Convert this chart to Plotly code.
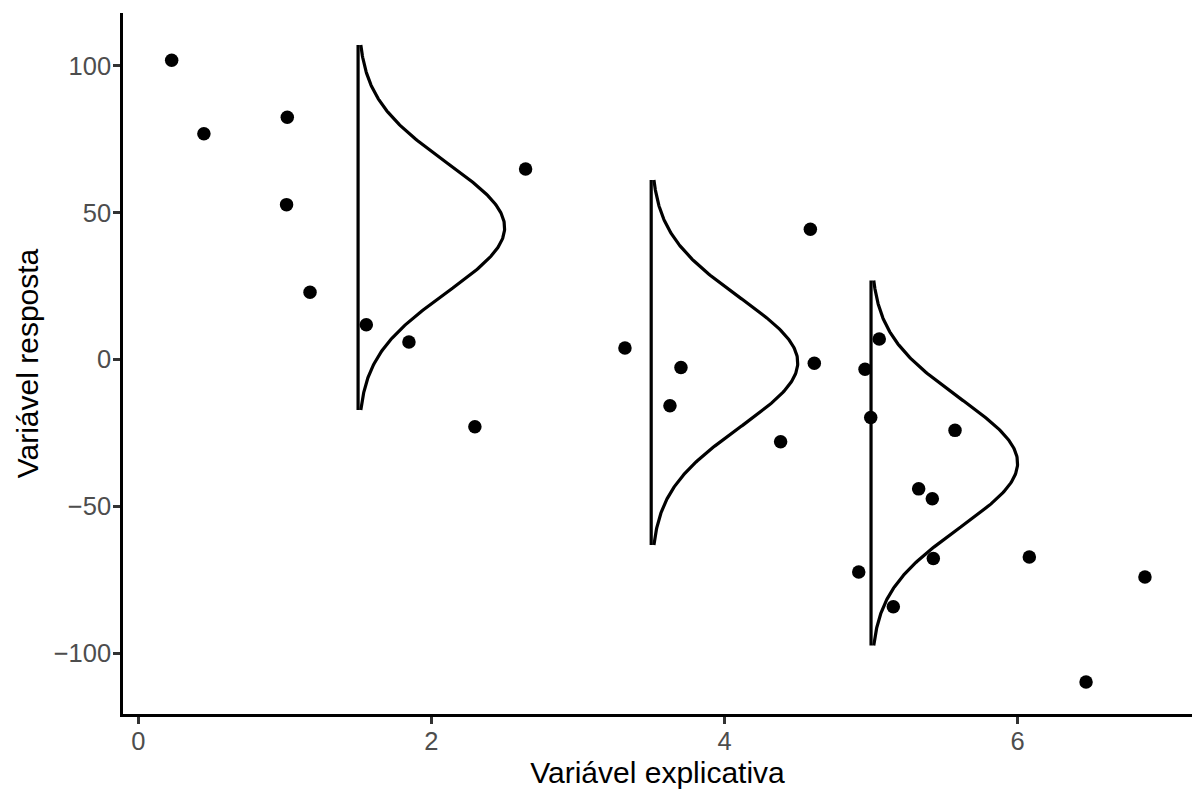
import numpy as np
import plotly.graph_objects as go

# Observed data points
x_obs = [0.228, 0.448, 1.017, 1.012, 1.172, 1.556, 1.847, 2.297, 2.643, 3.321,
         3.628, 3.703, 4.383, 4.586, 4.613, 4.916, 4.959, 4.998, 5.056, 5.152,
         5.325, 5.418, 5.425, 5.573, 6.080, 6.467, 6.869]
y_obs = [101.8, 76.8, 82.4, 52.7, 22.9, 11.8, 6.0, -22.9, 64.8, 3.9,
         -15.7, -2.7, -28.0, 44.3, -1.3, -72.3, -3.3, -19.7, 7.0, -84.1,
         -44.0, -47.4, -67.7, -24.1, -67.2, -109.7, -74.0]

# Normal density curves drawn along the response axis
curve_x0 = [1.5, 3.5, 5.0]
curve_mean = [44.9, -1.0, -35.2]
curve_sd = 22.0
curve_halfrange = 62.1
curve_width = 1.0

x_ticks = [0, 2, 4, 6]
y_ticks = [-100, -50, 0, 50, 100]
y_tick_text = ["\u2212100", "\u221250", "0", "50", "100"]

fig = go.Figure()

for x0, mu in zip(curve_x0, curve_mean):
    yy = np.linspace(mu - curve_halfrange, mu + curve_halfrange, 300)
    xx = x0 + curve_width * np.exp(-0.5 * ((yy - mu) / curve_sd) ** 2)
    fig.add_trace(go.Scatter(x=xx, y=yy, mode="lines",
                             line=dict(color="black", width=3.2),
                             hoverinfo="skip", showlegend=False))
    fig.add_trace(go.Scatter(x=[x0, x0], y=[mu - curve_halfrange, mu + curve_halfrange],
                             mode="lines", line=dict(color="black", width=3.2),
                             hoverinfo="skip", showlegend=False))

fig.add_trace(go.Scatter(x=x_obs, y=y_obs, mode="markers",
                         marker=dict(color="black", size=13.5, line=dict(width=0)),
                         showlegend=False))

font_family = "Liberation Sans, Arial, Helvetica, sans-serif"

fig.update_layout(
    width=1192, height=790,
    margin=dict(l=123, r=0, t=13, b=76),
    paper_bgcolor="white", plot_bgcolor="white",
    font=dict(family=font_family, size=25, color="#4D4D4D"),
    xaxis=dict(
        range=[-0.104, 7.19], tickvals=x_ticks, ticktext=[str(v) for v in x_ticks],
        showgrid=False, zeroline=False,
        showline=True, linecolor="black", linewidth=2.6,
        ticks="outside", ticklen=7, tickwidth=2.6, tickcolor="#333333",
        tickfont=dict(size=25.5, color="#4D4D4D"),
        ticklabelstandoff=-4,
        title=dict(text="Variável explicativa", font=dict(size=30, color="black"), standoff=8),
    ),
    yaxis=dict(
        range=[-120.6, 117.9], tickvals=y_ticks, ticktext=y_tick_text,
        showgrid=False, zeroline=False,
        showline=True, linecolor="black", linewidth=2.6,
        ticks="outside", ticklen=7, tickwidth=2.6, tickcolor="#333333",
        tickfont=dict(size=25.5, color="#4D4D4D"),
        ticklabelstandoff=-3,
        title=dict(text="Variável resposta", font=dict(size=30, color="black"), standoff=7),
    ),
)

fig.write_html("out.html")
